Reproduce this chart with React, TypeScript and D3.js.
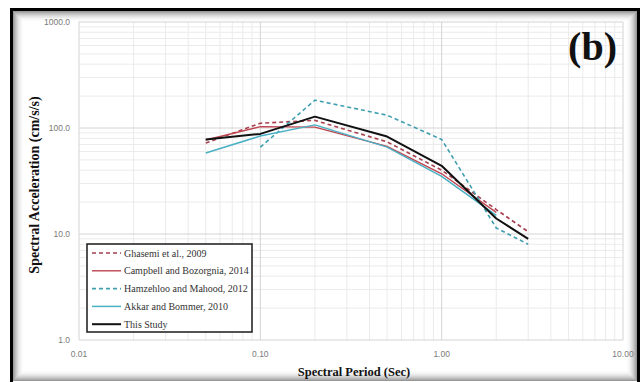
import React from "react";
import * as d3 from "d3";

// Spectral periods (s) shared by every model
const periods = [0.05, 0.1, 0.2, 0.5, 1.0, 2.0, 3.0];

// Spectral acceleration (cm/s/s) per model; null = not defined at that period
const ghasemi2009 = [72, 111, 118, 74, 40, 17, 10.5];
const campbell2014 = [77, 103, 102, 67, 37, 16, null];
const hamzehloo2012 = [null, 66, 183, 132, 78, 11.4, 8.0];
const akkar2010 = [58, 84, 107, 66, 35, 15, null];
const thisStudy = [78, 88, 128, 83, 44, 14, 9.0];

const seriesNames = [
  "Ghasemi et al., 2009",
  "Campbell and Bozorgnia, 2014",
  "Hamzehloo and Mahood, 2012",
  "Akkar and Bommer, 2010",
  "This Study",
];

const xTickValues = [0.01, 0.1, 1, 10];
const xTickLabels = ["0.01", "0.10", "1.00", "10.00"];
const yTickValues = [1, 10, 100, 1000];
const yTickLabels = ["1.0", "10.0", "100.0", "1000.0"];

const W = 643;
const H = 382;

export default function App() {
  const x = d3.scaleLog().domain([0.01, 10]).range([79, 623]);
  const y = d3.scaleLog().domain([1, 1000]).range([340, 22]);

  const styles = [
    { color: "#a8404e", dash: "4,3", width: 1.6 },
    { color: "#bd4550", dash: null, width: 1.4 },
    { color: "#3f9fb0", dash: "4,3", width: 1.6 },
    { color: "#4bb0c4", dash: null, width: 1.5 },
    { color: "#111111", dash: null, width: 2.0 },
  ];
  const values = [ghasemi2009, campbell2014, hamzehloo2012, akkar2010, thisStudy];

  const line = d3
    .line<[number, number | null]>()
    .defined((d) => d[1] != null)
    .x((d) => x(d[0]))
    .y((d) => y(d[1] as number));

  // Log grid: minor lines 1..9 within each decade
  const xGrid: { v: number; major: boolean }[] = [];
  for (let e = -2; e <= 0; e++) {
    for (let m = 1; m <= 9; m++) xGrid.push({ v: m * Math.pow(10, e), major: m === 1 });
  }
  xGrid.push({ v: 10, major: true });
  const yGrid: { v: number; major: boolean }[] = [];
  for (let e = 0; e <= 2; e++) {
    for (let m = 1; m <= 9; m++) yGrid.push({ v: m * Math.pow(10, e), major: m === 1 });
  }
  yGrid.push({ v: 1000, major: true });

  const [x0, x1] = x.range();
  const [y0, y1] = y.range();

  // Inset shadow rings along the frame
  const rings = d3.range(0, 11);

  const legend = { x: 87, y: 244, w: 165, h: 88, row0: 253, step: 17.8 };

  return (
    <svg
      width={W}
      height={H}
      style={{ position: "absolute", left: 0, top: 0 }}
      xmlns="http://www.w3.org/2000/svg"
    >
      <rect x={0} y={0} width={W} height={H} fill="#ffffff" />

      {/* frame with inset shading */}
      {rings.map((i) => (
        <rect
          key={"r" + i}
          x={13.5 + i}
          y={11.5 + i}
          width={623 - 2 * i}
          height={369 - 2 * i}
          fill="none"
          stroke="#000"
          strokeOpacity={0.4 * Math.pow(1 - i / 11, 2)}
          strokeWidth={1}
        />
      ))}
      <rect x={11.5} y={9.5} width={627} height={H + 10} fill="none" stroke="#000" strokeWidth={3} />

      {/* grid */}
      <g>
        {xGrid
          .filter((g) => !g.major)
          .map((g, i) => (
            <line key={"xm" + i} x1={x(g.v)} x2={x(g.v)} y1={y1} y2={y0} stroke="#ebebeb" strokeWidth={1} />
          ))}
        {yGrid
          .filter((g) => !g.major)
          .map((g, i) => (
            <line key={"ym" + i} x1={x0} x2={x1} y1={y(g.v)} y2={y(g.v)} stroke="#ebebeb" strokeWidth={1} />
          ))}
        {xGrid
          .filter((g) => g.major)
          .map((g, i) => (
            <line key={"xM" + i} x1={x(g.v)} x2={x(g.v)} y1={y1} y2={y0} stroke="#d4d4d4" strokeWidth={1} />
          ))}
        {yGrid
          .filter((g) => g.major)
          .map((g, i) => (
            <line key={"yM" + i} x1={x0} x2={x1} y1={y(g.v)} y2={y(g.v)} stroke="#d4d4d4" strokeWidth={1} />
          ))}
      </g>

      {/* tick labels */}
      <g fontFamily="'Liberation Sans', Arial, sans-serif" fontSize={8.5} fill="#7a7a7a">
        {yTickValues.map((v, i) => (
          <text key={"yt" + i} x={70} y={y(v) + 3} textAnchor="end">
            {yTickLabels[i]}
          </text>
        ))}
        {xTickValues.map((v, i) => (
          <text key={"xt" + i} x={x(v)} y={357} textAnchor="middle">
            {xTickLabels[i]}
          </text>
        ))}
      </g>

      {/* axis titles */}
      <text
        x={354}
        y={376}
        textAnchor="middle"
        fontFamily="'Liberation Serif', 'Times New Roman', serif"
        fontWeight="bold"
        fontSize={12.5}
        fill="#111"
      >
        Spectral Period (Sec)
      </text>
      <text
        transform="translate(39,185) rotate(-90)"
        textAnchor="middle"
        fontFamily="'Liberation Serif', 'Times New Roman', serif"
        fontWeight="bold"
        fontSize={14}
        fill="#111"
      >
        Spectral Acceleration (cm/s/s)
      </text>

      {/* series */}
      <g fill="none" strokeLinejoin="round">
        {values.map((vals, si) => {
          const pts = periods.map((p, i) => [p, vals[i]] as [number, number | null]);
          const s = styles[si];
          return (
            <path
              key={"s" + si}
              d={line(pts) || ""}
              stroke={s.color}
              strokeWidth={s.width}
              strokeDasharray={s.dash || undefined}
            />
          );
        })}
      </g>

      {/* legend */}
      <g>
        <rect
          x={legend.x}
          y={legend.y}
          width={legend.w}
          height={legend.h}
          fill="#ffffff"
          stroke="#1a1a1a"
          strokeWidth={1.5}
        />
        {seriesNames.map((name, i) => {
          const s = styles[i];
          const ly = legend.row0 + i * legend.step;
          return (
            <g key={"l" + i}>
              <line
                x1={92}
                x2={121}
                y1={ly}
                y2={ly}
                stroke={s.color}
                strokeWidth={s.width}
                strokeDasharray={s.dash || undefined}
              />
              <text
                x={124}
                y={ly + 3.5}
                fontFamily="'Liberation Serif', 'Times New Roman', serif"
                fontSize={10}
                fill="#333"
              >
                {name}
              </text>
            </g>
          );
        })}
      </g>

      {/* panel label */}
      <text
        x={617}
        y={60}
        textAnchor="end"
        fontFamily="'Liberation Serif', 'Times New Roman', serif"
        fontWeight="bold"
        fontSize={40}
        fill="#111"
      >
        (b)
      </text>
    </svg>
  );
}
